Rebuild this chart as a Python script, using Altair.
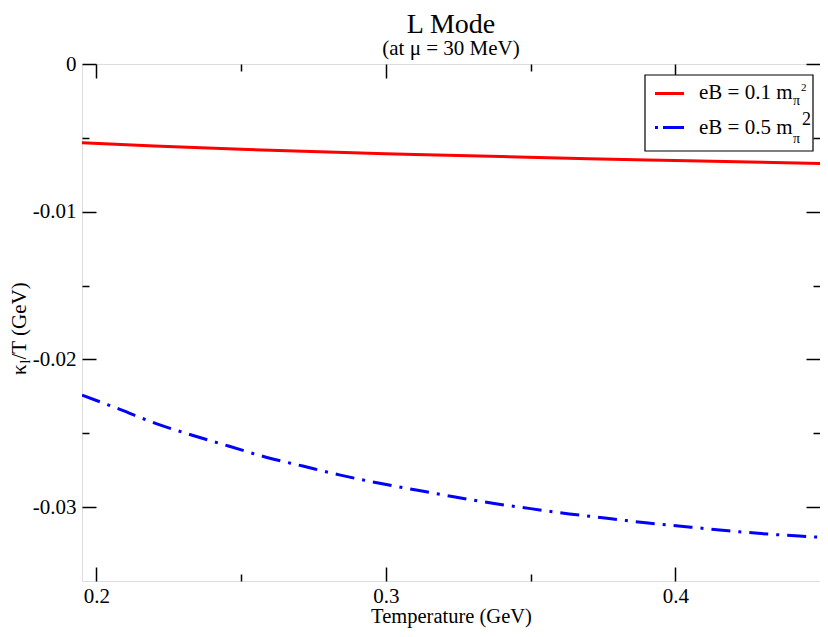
import altair as alt
import pandas as pd

# ---- data ----
T_RED = [0.195, 0.22, 0.25, 0.28, 0.31, 0.34, 0.37, 0.40, 0.43, 0.45]
K_RED = [-0.00533, -0.00555, -0.00577, -0.00596, -0.00612, -0.00627,
         -0.00641, -0.00653, -0.00665, -0.00673]

T_BLUE = [0.195, 0.2081, 0.2204, 0.2331, 0.2459, 0.2586, 0.2713, 0.2843,
          0.2974, 0.3105, 0.3239, 0.3369, 0.3500, 0.3634, 0.3764, 0.3898,
          0.4029, 0.4163, 0.4297, 0.4428, 0.4500]
K_BLUE = [-0.02242, -0.02338, -0.02433, -0.02513, -0.02588, -0.02662,
          -0.02722, -0.02783, -0.02837, -0.02884, -0.02931, -0.02974,
          -0.03010, -0.03046, -0.03075, -0.03106, -0.03131, -0.03156,
          -0.03179, -0.03196, -0.03204]

X_MAJOR = [0.2, 0.3, 0.4]
X_MINOR = [0.25, 0.35]
Y_MAJOR = [0, -0.01, -0.02, -0.03]
Y_MINOR = [-0.005, -0.015, -0.025]
X_DOMAIN = [0.195, 0.45]
Y_DOMAIN = [-0.035, 0]

SERIES = ["eB = 0.1 m", "eB = 0.5 m"]
COLORS = ["#ff0000", "#0000ff"]
TITLE = "L Mode"
SUBTITLE = "(at \u03bc = 30 MeV)"
X_TITLE = "Temperature (GeV)"
Y_TITLE = ["\u03ba", "l", "/T (GeV)"]

FONT = "Liberation Serif, Tinos, 'Times New Roman', 'DejaVu Serif', serif"
W, H = 738, 517

red = pd.DataFrame({"T": T_RED, "k": K_RED})
blue = pd.DataFrame({"T": T_BLUE, "k": K_BLUE})
one = pd.DataFrame({"a": [0]})


def make_axis(orient, values, major, labels=False, title=None, pad=0,
              title_pad=0, fmt=None):
    size = 14 if major else 7
    kw = dict(
        orient=orient, values=values, grid=False, domain=False,
        tickSize=alt.ExprRef(expr=str(-size)), tickColor="black", tickWidth=1.5,
        labels=labels, title=title,
    )
    if labels:
        kw.update(labelFont=FONT, labelFontSize=21, labelColor="black",
                  labelPadding=size + pad, labelFlush=False, format=fmt,
                  labelExpr="replace(datum.label, '\u2212', '-')")
    if title:
        kw.update(titleFont=FONT, titleFontSize=20.5, titleFontWeight="normal",
                  titleColor="black", titlePadding=alt.ExprRef(expr=str(title_pad)))
    return alt.Axis(**kw)


xs = alt.Scale(domain=X_DOMAIN, nice=False, zero=False)
ys = alt.Scale(domain=Y_DOMAIN, nice=False, zero=False)

line_red = alt.Chart(red).mark_line(color=COLORS[0], strokeWidth=3, clip=True,
                                    interpolate="monotone").encode(
    x=alt.X("T:Q", scale=xs, axis=make_axis("bottom", X_MAJOR, True, True, X_TITLE,
                                             pad=4, title_pad=0, fmt=".1f")),
    y=alt.Y("k:Q", scale=ys, axis=make_axis("left", Y_MAJOR, True, True, pad=6,
                                             fmt=".2~f")),
)

line_blue = alt.Chart(blue).mark_line(color=COLORS[1], strokeWidth=3, clip=True,
                                      interpolate="monotone",
                                      strokeDash=[19, 8, 3, 8]).encode(
    x=alt.X("T:Q", scale=xs, axis=make_axis("bottom", X_MINOR, False)),
    y=alt.Y("k:Q", scale=ys, axis=make_axis("left", Y_MINOR, False)),
)

ghost_major = alt.Chart(red).mark_point(opacity=0).encode(
    x=alt.X("T:Q", scale=xs, axis=make_axis("top", X_MAJOR, True)),
    y=alt.Y("k:Q", scale=ys, axis=make_axis("right", Y_MAJOR, True)),
)
ghost_minor = alt.Chart(red).mark_point(opacity=0).encode(
    x=alt.X("T:Q", scale=xs, axis=make_axis("top", X_MINOR, False)),
    y=alt.Y("k:Q", scale=ys, axis=make_axis("right", Y_MINOR, False)),
)

# ---- legend box ----
box = alt.Chart(one).mark_rect(fill="white", stroke="black", strokeWidth=1.2).encode(
    x=alt.value(563), x2=alt.value(731), y=alt.value(11), y2=alt.value(87))
sample_red = alt.Chart(one).mark_rule(color=COLORS[0], strokeWidth=3).encode(
    x=alt.value(573), x2=alt.value(602), y=alt.value(29.5))
sample_blue = alt.Chart(one).mark_rule(color=COLORS[1], strokeWidth=3,
                                       strokeDash=[3, 5, 21, 8]).encode(
    x=alt.value(573), x2=alt.value(602), y=alt.value(63.5))


def txt(s, x, y, size, angle=0):
    kw = dict(font=FONT, fontSize=size, color="black", align="left",
              baseline="alphabetic")
    if angle:
        kw["angle"] = angle
    return alt.Chart(one).mark_text(**kw).encode(
        text=alt.value(s), x=alt.value(x), y=alt.value(y))


legend_text = [
    txt(SERIES[0], 617, 35, 21),
    txt("\u03c0", 711, 41, 14),
    txt("2", 719, 27, 11),
    txt(SERIES[1], 617, 70, 21),
    txt("\u03c0", 711, 79, 14),
    txt("2", 720, 61, 18),
]

ytitle = [
    txt(Y_TITLE[0], -56, 311, 21, 270),
    txt(Y_TITLE[1], -52, 299.5, 14, 270),
    txt(Y_TITLE[2], -56, 295.5, 21, 270),
]

chart = alt.layer(
    line_red, line_blue, ghost_major, ghost_minor,
    box, sample_red, sample_blue, *legend_text, *ytitle,
).resolve_axis(x="independent", y="independent").properties(
    width=W, height=H,
    autosize=alt.AutoSizeParams(type="none"),
    padding={"left": 74, "top": 56, "right": 0, "bottom": 48},
    title=alt.TitleParams(
        TITLE, subtitle=SUBTITLE, font=FONT, fontSize=28, fontWeight="normal",
        color="black", subtitleFont=FONT, subtitleFontSize=21,
        subtitleColor="black", subtitlePadding=alt.ExprRef(expr="-1"),
        anchor="middle", offset=alt.ExprRef(expr="-6"),
    ),
).configure_view(stroke="black", strokeWidth=1.5).configure(background="white")

chart.save("out.html", embed_options={"renderer": "svg", "actions": False})
